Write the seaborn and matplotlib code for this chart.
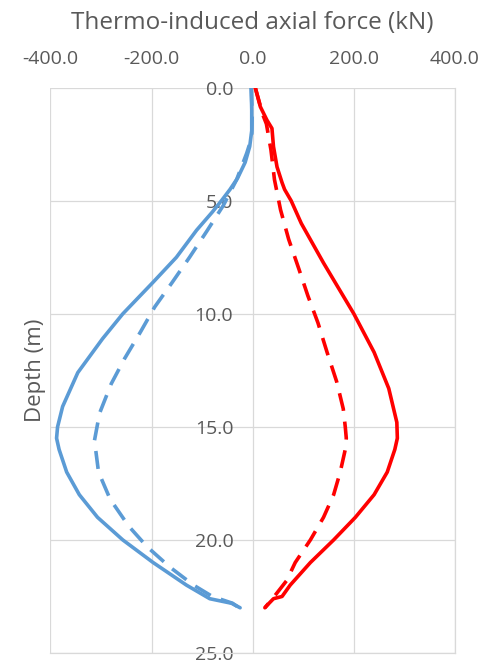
import matplotlib
matplotlib.use("Agg")
import matplotlib.pyplot as plt
import seaborn as sns
import pandas as pd
from matplotlib.ticker import FormatStrFormatter

# ---- data ----
depth_blue_solid = [0, 1, 1.9, 2.6, 3.3, 4, 4.5, 5, 5.5, 6.3, 7.5, 8.6, 10, 11.1, 12.6, 14.1, 15, 15.5,
                    16, 17, 18, 19, 20, 21, 22, 22.6, 22.8, 23]
force_blue_solid = [-3, -2, -2, -6, -15, -30, -45, -62, -80, -111, -151, -197, -257, -297, -346, -376, -386, -388,
                    -383, -368, -343, -307, -257, -197, -131, -85, -42, -25]

depth_blue_dash = [0, 1.2, 2.2, 2.9, 4.07, 5.2, 6.35, 7.5, 8.6, 9.7, 10.8, 12, 13.1, 14.4, 15.6, 17, 18.2,
                   19.4, 20.3, 21.2, 22, 22.5, 22.8, 23]
force_blue_dash = [-3, -1, -2, -12, -32, -58, -91, -125, -159, -194, -222, -254, -280, -303, -313, -305, -282,
                   -245, -209, -164, -117, -80, -40, -27]

depth_red_solid = [0, 0.84, 1.43, 1.8, 2.6, 3.5, 4.2, 4.5, 5, 6, 7.75, 10, 11.7, 13.3, 14.8, 15.5, 16, 17, 18,
                   19, 20, 21, 22, 22.5, 22.6, 22.9, 23]
force_red_solid = [5, 15, 28, 38, 41, 48, 58, 63, 76, 96, 140, 200, 240, 269, 285, 286, 281, 266, 240,
                   203, 160, 114, 74, 58, 41, 28, 24]

depth_red_dash = [0, 1.2, 1.6, 2.75, 4.07, 5.4, 6.7, 8, 9.2, 10.4, 11.7, 13, 14.2, 15, 15.5, 16, 17, 18, 19,
                  20, 21, 21.8, 22.6, 23]
force_red_dash = [5, 20, 27, 36, 43, 55, 71, 91, 109, 129, 147, 166, 179, 183, 185, 183, 173, 160, 140,
                  114, 84, 67, 39, 24]

x_ticks = [-400, -200, 0, 200, 400]
y_ticks = [0, 5, 10, 15, 20, 25]

BLUE = "#5B9BD5"
RED = "#FF0000"
GRID = "#D9D9D9"
TXT = "#595959"

sns.set_theme(style="white")
plt.rcParams["font.family"] = ["Open Sans", "DejaVu Sans"]
plt.rcParams["axes.unicode_minus"] = False

fig = plt.figure(figsize=(4.99, 6.63), dpi=100)
ax = fig.add_axes([0.1012, 0.0151, 0.8106, 0.8526])

series = [
    (force_blue_solid, depth_blue_solid, BLUE, None),
    (force_blue_dash, depth_blue_dash, BLUE, (5.0, 3.0)),
    (force_red_solid, depth_red_solid, RED, None),
    (force_red_dash, depth_red_dash, RED, (5.0, 3.0)),
]
for fx, dy, col, dash in series:
    df = pd.DataFrame({"force": fx, "depth": dy})
    sns.lineplot(data=df, x="force", y="depth", sort=False, estimator=None,
                 color=col, lw=2.6, ax=ax, zorder=3)
    line = ax.lines[-1]
    line.set_solid_capstyle("round")
    line.set_solid_joinstyle("round")
    if dash is not None:
        line.set_dashes(dash)
        line.set_dash_capstyle("butt")

ax.set_xlim(-400, 400)
ax.set_ylim(25, 0)
ax.set_xticks(x_ticks)
ax.set_yticks(y_ticks)
ax.xaxis.set_major_formatter(FormatStrFormatter("%.1f"))
ax.yaxis.set_major_formatter(FormatStrFormatter("%.1f"))

ax.grid(True, color=GRID, lw=0.9)
ax.set_axisbelow(True)

ax.xaxis.tick_top()
ax.xaxis.set_label_position("top")
ax.tick_params(axis="x", length=0, pad=14, labelsize=14, labelcolor=TXT)
ax.tick_params(axis="y", length=0, pad=14, labelsize=14, labelcolor=TXT)

# y tick labels sit next to the zero line
ax.spines["left"].set_position(("data", 0))
ax.spines["left"].set_visible(False)
ax.spines["top"].set_visible(False)
for s in ("right", "bottom"):
    ax.spines[s].set_color(GRID)
    ax.spines[s].set_linewidth(0.9)

ax.set_xlabel("Thermo-induced axial force (kN)", fontsize=17.5, color=TXT, labelpad=15)
ax.set_ylabel("Depth (m)", fontsize=16, color=TXT)
ax.yaxis.set_label_coords(-0.01, 0.5)

fig.savefig("out.png", dpi=100)
